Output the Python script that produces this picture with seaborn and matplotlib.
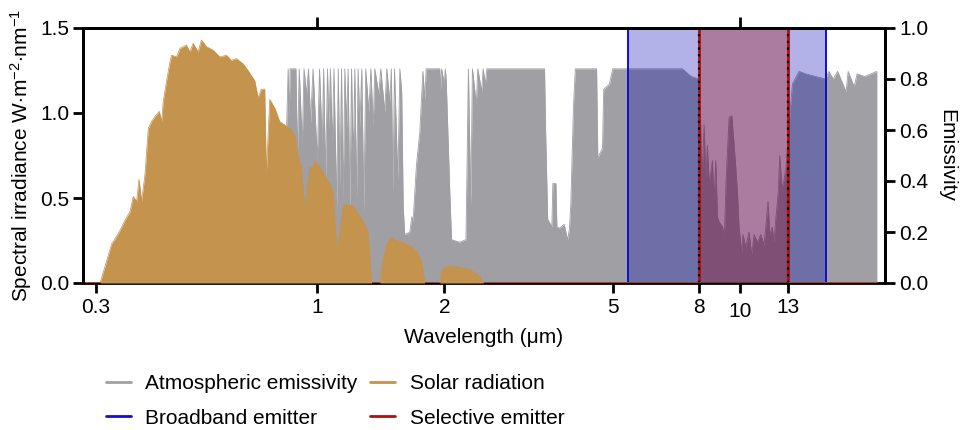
import numpy as np
import pandas as pd
import seaborn as sns
import matplotlib.pyplot as plt
from matplotlib.lines import Line2D
from matplotlib.ticker import NullLocator

# Atmospheric emissivity (right axis)
atm_wl = [0.28, 0.60, 0.75, 0.84, 0.855, 0.860, 0.864, 0.892, 0.899, 0.908,
          0.923, 0.932, 0.945, 0.955, 0.966, 0.979, 1.002, 1.014, 1.029, 1.037,
          1.048, 1.059, 1.067, 1.076, 1.087, 1.097, 1.113, 1.123, 1.133, 1.143,
          1.153, 1.164, 1.175, 1.185, 1.196, 1.207, 1.218, 1.229, 1.240, 1.251,
          1.263, 1.276, 1.291, 1.304, 1.326, 1.341, 1.358, 1.370, 1.400, 1.415,
          1.446, 1.462, 1.487, 1.499, 1.512, 1.525, 1.553, 1.570, 1.586, 1.599,
          1.612, 1.657, 1.676, 1.687, 1.718, 1.750, 1.780, 1.798, 1.812, 1.950,
          1.960, 1.970, 2.000, 2.010, 2.020, 2.060, 2.080, 2.170, 2.250, 2.260,
          2.280, 2.310, 2.330, 2.380, 2.400, 2.450, 2.470, 2.500, 2.520, 3.450,
          3.470, 3.510, 3.590, 3.610, 3.670, 3.690, 3.740, 3.840, 3.910, 3.950,
          3.980, 4.040, 4.080, 4.580, 4.610, 4.730, 4.760, 4.910, 5.000, 7.300,
          7.660, 7.970, 8.00, 8.07, 8.14, 8.22, 8.30, 8.37, 8.45, 8.60,
          8.68, 8.76, 8.84, 8.92, 9.09, 9.18, 9.27, 9.35, 9.42, 9.56,
          9.68, 9.77, 9.86, 9.94, 10.09, 10.16, 10.31, 10.50, 10.65, 10.79,
          10.99, 11.19, 11.39, 11.50, 11.64, 11.75, 11.91, 12.02, 12.17, 12.30,
          12.41, 12.56, 12.72, 12.83, 13.05, 13.29, 13.78, 14.29, 15.90, 16.20,
          16.60, 17.00, 17.80, 18.00, 18.60, 18.90, 19.70, 21.05]
atm_em = [0.00, 0.02, 0.15, 0.35, 0.84, 0.64, 0.84, 0.84, 0.49, 0.84,
          0.54, 0.84, 0.74, 0.84, 0.63, 0.84, 0.48, 0.84, 0.54, 0.84,
          0.41, 0.84, 0.61, 0.84, 0.54, 0.84, 0.30, 0.84, 0.37, 0.84,
          0.32, 0.84, 0.61, 0.84, 0.27, 0.84, 0.48, 0.84, 0.32, 0.84,
          0.61, 0.84, 0.28, 0.84, 0.67, 0.84, 0.61, 0.84, 0.74, 0.84,
          0.67, 0.84, 0.71, 0.84, 0.35, 0.84, 0.40, 0.84, 0.75, 0.30,
          0.19, 0.20, 0.26, 0.24, 0.46, 0.59, 0.83, 0.72, 0.84, 0.84,
          0.76, 0.84, 0.78, 0.84, 0.80, 0.36, 0.17, 0.16, 0.17, 0.40,
          0.84, 0.30, 0.84, 0.70, 0.84, 0.75, 0.84, 0.78, 0.84, 0.84,
          0.60, 0.25, 0.22, 0.39, 0.39, 0.22, 0.215, 0.23, 0.17, 0.21,
          0.31, 0.70, 0.84, 0.84, 0.49, 0.53, 0.76, 0.78, 0.84, 0.84,
          0.81, 0.80, 0.70, 0.62, 0.42, 0.62, 0.41, 0.54, 0.39, 0.48,
          0.32, 0.48, 0.26, 0.24, 0.22, 0.18, 0.41, 0.54, 0.65, 0.655,
          0.54, 0.45, 0.35, 0.22, 0.12, 0.19, 0.14, 0.20, 0.11, 0.19,
          0.16, 0.19, 0.15, 0.22, 0.32, 0.19, 0.22, 0.16, 0.27, 0.35,
          0.50, 0.37, 0.41, 0.45, 0.62, 0.78, 0.83, 0.82, 0.80, 0.83,
          0.80, 0.83, 0.75, 0.83, 0.77, 0.82, 0.81, 0.83]

# Solar spectral irradiance (left axis)
sun_wl = [0.28, 0.3073, 0.3184, 0.3272, 0.3333, 0.3425, 0.3519, 0.3616, 0.3681, 0.3748,
          0.3798, 0.3851, 0.3923, 0.3994, 0.4066, 0.4142, 0.4240, 0.4294, 0.4334, 0.4412,
          0.4494, 0.4533, 0.4658, 0.4745, 0.4916, 0.5008, 0.5098, 0.5239, 0.5334, 0.5481,
          0.5685, 0.5894, 0.6110, 0.6278, 0.6451, 0.6690, 0.6875, 0.6999, 0.7129, 0.7257,
          0.7388, 0.7527, 0.7592, 0.7734, 0.7947, 0.8166, 0.8390, 0.8622, 0.8860, 0.9019,
          0.9184, 0.9355, 0.9612, 0.9786, 0.989, 1.016, 1.044, 1.073, 1.092, 1.113,
          1.129, 1.153, 1.185, 1.218, 1.251, 1.286, 1.321, 1.346, 1.355, 1.408,
          1.434, 1.460, 1.501, 1.542, 1.598, 1.657, 1.718, 1.766, 1.798, 1.950,
          1.968, 2.022, 2.096, 2.213, 2.296, 2.423, 2.476, 21.05]
sun_irr = [0.00, 0.00, 0.13, 0.23, 0.26, 0.31, 0.37, 0.42, 0.51, 0.48,
           0.61, 0.48, 0.64, 0.91, 0.95, 0.98, 1.01, 0.95, 1.07, 1.19,
           1.30, 1.34, 1.33, 1.38, 1.40, 1.36, 1.41, 1.36, 1.43, 1.39,
           1.37, 1.33, 1.34, 1.31, 1.32, 1.29, 1.25, 1.22, 1.19, 1.09,
           1.14, 1.14, 0.64, 1.08, 1.03, 0.95, 0.93, 0.91, 0.87, 0.75,
           0.68, 0.44, 0.68, 0.68, 0.72, 0.68, 0.63, 0.58, 0.54, 0.21,
           0.28, 0.46, 0.46, 0.45, 0.41, 0.36, 0.30, 0.00, 0.00, 0.00,
           0.15, 0.23, 0.27, 0.25, 0.24, 0.22, 0.19, 0.13, 0.00, 0.00,
           0.07, 0.10, 0.10, 0.09, 0.08, 0.04, 0.00, 0.00]

# Emitters (step profiles, emissivity)
broad_wl = [0.28, 5.43, 5.43, 15.95, 15.95, 21.05]
broad_em = [0, 0, 1, 1, 0, 0]
sel_wl = [0.28, 8, 8, 13, 13, 21.05]
sel_em = [0, 0, 1, 1, 0, 0]

labels = ['Atmospheric emissivity', 'Broadband emitter', 'Solar radiation', 'Selective emitter']
c_atm, c_sun, c_broad, c_sel = '#a0a0a4', '#c4934e', '#1010d0', '#b01010'

sns.set_style('ticks', {'axes.edgecolor': 'black', 'xtick.color': 'black',
                        'ytick.color': 'black', 'text.color': 'black',
                        'axes.labelcolor': 'black'})
plt.rcParams['font.family'] = ['Liberation Sans', 'DejaVu Sans']
plt.rcParams['mathtext.fontset'] = 'custom'
plt.rcParams['mathtext.rm'] = 'Liberation Sans'
plt.rcParams['mathtext.it'] = 'Liberation Sans:italic'
plt.rcParams['font.size'] = 15

fig = plt.figure(figsize=(9.6, 4.3), dpi=100)
ax = fig.add_axes([83 / 960, 1 - 283 / 430, 802 / 960, 255 / 430])
ax2 = ax.twinx()
ax.set_zorder(ax2.get_zorder() + 1)
ax.patch.set_visible(False)
ax.set_xscale('log')

atm = pd.DataFrame({'wl': atm_wl, 'em': atm_em})
sun = pd.DataFrame({'wl': sun_wl, 'irr': sun_irr})
broad = pd.DataFrame({'wl': broad_wl, 'em': broad_em})
sel = pd.DataFrame({'wl': sel_wl, 'em': sel_em})

# emissivity side
ax2.fill_between(atm['wl'], 0, atm['em'], color=c_atm, lw=0, zorder=1)
sns.lineplot(data=atm, x='wl', y='em', ax=ax2, color=c_atm, lw=0.6,
             estimator=None, sort=False, zorder=1.1)
ax2.fill_between(broad['wl'], 0, broad['em'], color=(0, 0, 0.7), alpha=0.3, lw=0, zorder=2)
sns.lineplot(data=broad, x='wl', y='em', ax=ax2, color=c_broad, lw=1.4,
             estimator=None, sort=False, zorder=3)
ax2.fill_between(sel['wl'], 0, sel['em'], color=(0.63, 0.055, 0.063), alpha=0.33, lw=0, zorder=4)
sns.lineplot(data=sel, x='wl', y='em', ax=ax2, color=c_sel, lw=2,
             estimator=None, sort=False, zorder=5)
for w in [8, 13]:
    ax2.plot([w, w], [0, 1], color='black', ls=(0, (1, 2)), lw=1.6, zorder=6)

# solar side
ax.fill_between(sun['wl'], 0, sun['irr'], color=c_sun, lw=0)
sns.lineplot(data=sun, x='wl', y='irr', ax=ax, color=c_sun, lw=0.5,
             estimator=None, sort=False)

ax.set_xlim(0.28, 22)
ax.set_ylim(0, 1.5)
ax2.set_ylim(0, 1.0)

ax.set_xticks([0.3, 1, 2, 5, 8, 13])
ax.set_xticklabels(['0.3', '1', '2', '5', '8', '13'])
ax.set_xticks([10], minor=True)
ax.set_xticklabels(['10'], minor=True)
ax.tick_params(axis='x', which='major', length=7, width=2, pad=4, labelsize=15)
ax.tick_params(axis='x', which='minor', length=7, width=2, pad=6.5, labelsize=15)
ax.set_yticks([0, 0.5, 1.0, 1.5])
ax.set_yticklabels(['0.0', '0.5', '1.0', '1.5'])
ax.tick_params(axis='y', length=7, width=2, pad=3, labelsize=15)
ax2.set_yticks([0, 0.2, 0.4, 0.6, 0.8, 1.0])
ax2.set_yticklabels(['0.0', '0.2', '0.4', '0.6', '0.8', '1.0'])
ax2.tick_params(axis='y', length=7, width=2, pad=3, labelsize=15)

top = ax.secondary_xaxis('top')
top.set_xticks([1, 10])
top.set_xticklabels(['', ''])
top.xaxis.set_minor_locator(NullLocator())
top.tick_params(length=8, width=2)
top.spines['top'].set_linewidth(2)

for a in (ax, ax2):
    for s in a.spines.values():
        s.set_linewidth(2)
# let the red zero line of the emitters sit over the bottom spine
ax.spines['bottom'].set_visible(False)

ax.set_xlabel('Wavelength (μm)', fontsize=15, labelpad=5)
ax.set_ylabel(r'Spectral irradiance W$\cdot$m$^{-2}$$\cdot$nm$^{-1}$', fontsize=15, labelpad=4)
ax2.set_ylabel('Emissivity', fontsize=15, rotation=270, labelpad=20)

handles = [Line2D([], [], color=c, lw=2) for c in [c_atm, c_broad, c_sun, c_sel]]
fig.legend(handles, labels, loc='upper left', bbox_to_anchor=(0.11, 0.13),
           ncol=2, frameon=False, fontsize=15, handlelength=1.2, handletextpad=0.7,
           columnspacing=0.6, labelspacing=0.75, borderpad=0, borderaxespad=0)

fig.savefig('out.png', dpi=100)
